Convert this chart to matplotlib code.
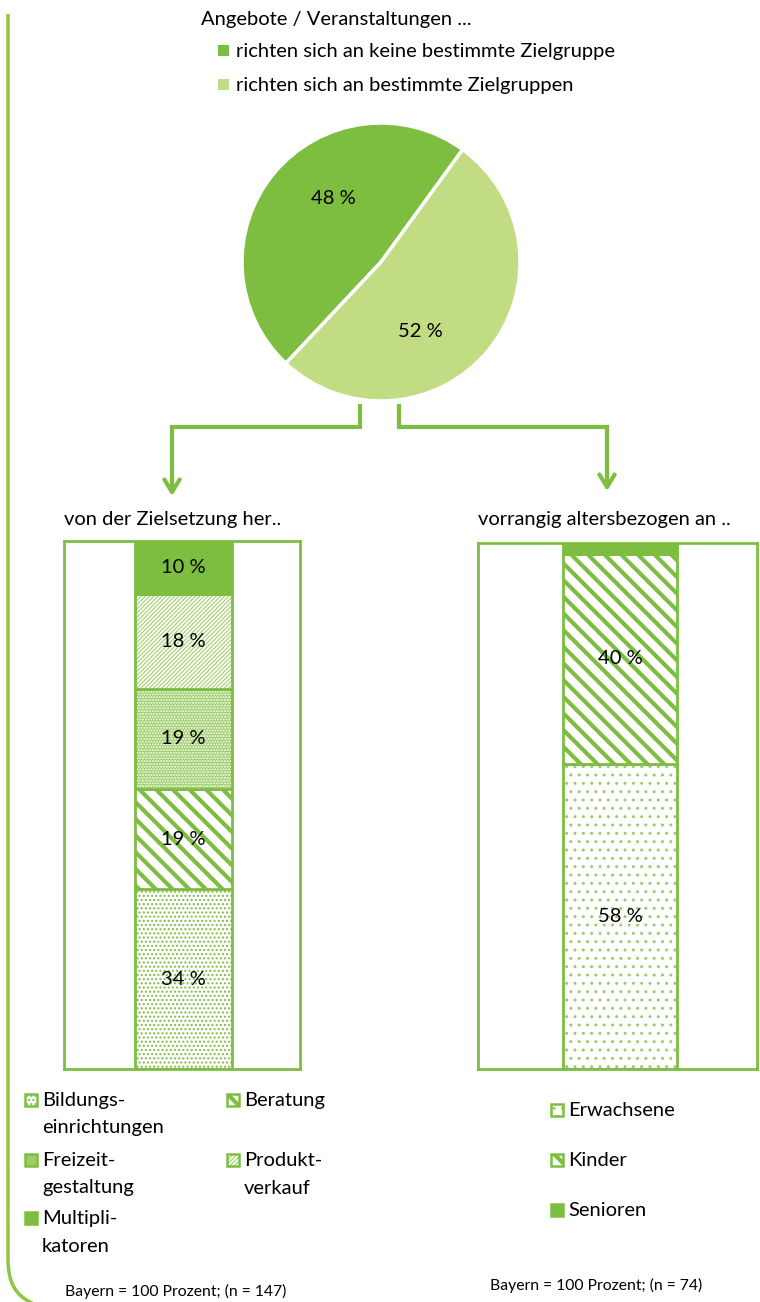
import matplotlib.pyplot as plt
from matplotlib.patches import Rectangle, PathPatch
from matplotlib.path import Path

plt.rcParams['font.family'] = ['Lato', 'DejaVu Sans']

GREEN = '#7dbe41'
LIGHT = '#c2dc83'
BORDER = '#8dc63f'
FS = 14.5

pie_title = 'Angebote / Veranstaltungen ...'
pie_labels = ['richten sich an keine bestimmte Zielgruppe',
              'richten sich an bestimmte Zielgruppen']
pie_values = [48, 52]

goal_title = 'von der Zielsetzung her..'
goal_labels = ['Bildungs-\neinrichtungen', 'Beratung', 'Freizeit-\ngestaltung',
               'Produkt-\nverkauf', 'Multipli-\nkatoren']
goal_values = [34, 19, 19, 18, 10]

age_title = 'vorrangig altersbezogen an ..'
age_labels = ['Erwachsene', 'Kinder', 'Senioren']
age_values = [58, 40, 2]

footer_goal = 'Bayern = 100 Prozent; (n = 147)'
footer_age = 'Bayern = 100 Prozent; (n = 74)'

# fill, hatch, hatch colour, hatch line width
styles = {
    'Bildungs-\neinrichtungen': ('white', '....', GREEN, 1.0),
    'Beratung': ('white', '\\\\', GREEN, 3.0),
    'Freizeit-\ngestaltung': ('#9ccd68', '......', 'white', 1.0),
    'Produkt-\nverkauf': ('white', '////////', '#a3d06f', 0.8),
    'Multipli-\nkatoren': (GREEN, None, GREEN, 1.0),
    'Erwachsene': ('white', '..', '#9ccd66', 1.0),
    'Kinder': ('white', '\\\\', GREEN, 3.0),
    'Senioren': (GREEN, None, GREEN, 1.0),
}

W, H = 760, 1302
fig = plt.figure(figsize=(W / 100, H / 100), dpi=100)


def px_axes(x0, y0, x1, y1):
    return fig.add_axes([x0 / W, 1 - y1 / H, (x1 - x0) / W, (y1 - y0) / H])


def apply_style(patch, name):
    face, hatch, hc, hlw = styles[name]
    patch.set_facecolor(face)
    patch.set_edgecolor(hc)
    patch.set_linewidth(0)
    if hatch:
        patch.set_hatch(hatch)
        if hasattr(patch, 'set_hatch_linewidth'):
            patch.set_hatch_linewidth(hlw)


canvas = px_axes(0, 0, W, H)
canvas.set_xlim(0, W)
canvas.set_ylim(H, 0)
canvas.set_axis_off()

# frame line on the left
border = Path([(8, 14), (8, 1258), (8, 1284), (16, 1296), (34, 1304)],
              [Path.MOVETO, Path.LINETO, Path.CURVE4, Path.CURVE4, Path.CURVE4])
canvas.add_patch(PathPatch(border, fill=False, edgecolor=BORDER, lw=2.5, clip_on=False))

# pie legend
canvas.text(201, 20, pie_title, fontsize=FS, va='center')
for i, (lab, col) in enumerate(zip(pie_labels, [GREEN, LIGHT])):
    y = 51 + i * 34
    canvas.add_patch(Rectangle((218, y - 6), 11, 11, facecolor=col, edgecolor='none'))
    canvas.text(236, y, lab, fontsize=FS, va='center')

# pie
ax_pie = px_axes(242, 123, 520, 401)
wedges, _, pct = ax_pie.pie(pie_values, colors=[GREEN, LIGHT], startangle=54,
                            autopct='%d %%', pctdistance=0.58,
                            wedgeprops=dict(edgecolor='white', linewidth=2.5),
                            textprops=dict(fontsize=FS))
pct[0].set_position((-0.34, 0.46))
pct[1].set_position((0.28, -0.5))
ax_pie.set_xlim(-1, 1)
ax_pie.set_ylim(-1, 1)

# connectors
canvas.plot([360, 360, 172, 172], [406, 427, 427, 480], color=GREEN, lw=3,
            solid_joinstyle='miter')
canvas.plot([399, 399, 607, 607], [406, 427, 427, 476], color=GREEN, lw=3,
            solid_joinstyle='miter')
for x, y in [(172, 496), (607, 491)]:
    canvas.annotate('', xy=(x, y), xytext=(x, y - 20),
                    arrowprops=dict(arrowstyle='->,head_length=0.9,head_width=0.55',
                                    lw=3, color=GREEN, shrinkA=0, shrinkB=0))

canvas.text(64, 519, goal_title, fontsize=FS, va='center')
canvas.text(478, 519, age_title, fontsize=FS, va='center')


def stacked(ax, labels, values, xc, width, show):
    ax.set_xlim(0, 1)
    ax.set_ylim(0, 100)
    ax.set_xticks([])
    ax.set_yticks([])
    for sp in ax.spines.values():
        sp.set_color(GREEN)
        sp.set_linewidth(2)
    bottom = 0
    for lab, v in zip(labels, values):
        bar = ax.bar(xc, v, width, bottom=bottom)
        apply_style(bar[0], lab)
        ax.bar(xc, v, width, bottom=bottom, fill=False, edgecolor=GREEN, lw=2)
        if v >= show:
            ax.text(xc, bottom + v / 2, f'{v} %', ha='center', va='center', fontsize=FS)
        bottom += v


ax_goal = px_axes(64, 541, 300, 1069)
stacked(ax_goal, goal_labels, goal_values, 0.506, 0.41, 5)

ax_age = px_axes(478, 543, 757, 1069)
stacked(ax_age, age_labels, age_values, 0.509, 0.41, 5)


def legend_item(x, y, name):
    sq = Rectangle((x, y - 6), 12, 12)
    apply_style(sq, name)
    if name.startswith('Freizeit'):
        sq.set_hatch(None)
    canvas.add_patch(sq)
    canvas.add_patch(Rectangle((x, y - 6), 12, 12, fill=False, edgecolor=GREEN, lw=1.8))
    canvas.text(x + 17, y - 8, name, fontsize=FS, va='top', linespacing=1.75)


goal_pos = [(25, 1100), (227, 1100), (25, 1160), (227, 1160), (25, 1218)]
for (x, y), lab in zip(goal_pos, goal_labels):
    legend_item(x, y, lab)

for i, lab in enumerate(age_labels):
    legend_item(551, 1110 + i * 50, lab)

canvas.text(65, 1291, footer_goal, fontsize=11.3, va='center')
canvas.text(490, 1285, footer_age, fontsize=11.3, va='center')

fig.savefig('out.png', dpi=100)
